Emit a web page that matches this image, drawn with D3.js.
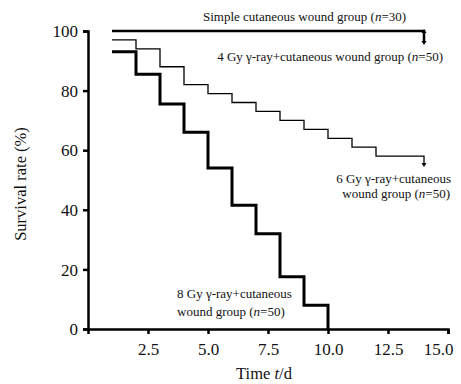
<!DOCTYPE html>
<html>
<head>
<meta charset="utf-8">
<script src="https://cdn.jsdelivr.net/npm/d3@7"></script>
<style>
  body { margin: 0; background: #fff; }
  svg { display: block; font-family: "Liberation Serif", "DejaVu Serif", serif; }
</style>
</head>
<body>
<svg width="461" height="384"></svg>
<script>
// data (survival %, by day)
const days = [1, 2, 3, 4, 5, 6, 7, 8, 9, 10, 11, 12, 13, 14];
const simpleGroup = [100, 100, 100, 100, 100, 100, 100, 100, 100, 100, 100, 100, 100, 100];
const gy4Group = [100, 100, 100, 100, 100, 100, 100, 100, 100, 100, 100, 100, 100, 96];
const gy6Group = [97, 94, 88, 82, 79, 76, 73, 70, 67, 64, 61, 58, 58, 55];
const gy8Days = [1, 2, 3, 4, 5, 6, 7, 8, 9, 10];
const gy8Group = [93, 85.5, 75.5, 66, 54, 41.5, 32, 17.5, 8, 0];
const xTicks = [2.5, 5, 7.5, 10, 12.5, 15];
const yTicks = [0, 20, 40, 60, 80, 100];

const serif = '"Liberation Serif", "Times New Roman", serif';
const svg = d3.select('svg');
const x = d3.scaleLinear().domain([0, 15]).range([88, 448]);
const y = d3.scaleLinear().domain([0, 100]).range([329, 31]);

// axes
const xAxis = svg.append('g')
    .attr('transform', 'translate(0,329)')
    .call(d3.axisBottom(x).tickValues(xTicks).tickFormat(d3.format('.1f')).tickSizeOuter(0).tickSize(5).tickPadding(5));
const yAxis = svg.append('g')
    .attr('transform', 'translate(88,0)')
    .call(d3.axisLeft(y).tickValues(yTicks).tickSizeOuter(0).tickSize(5).tickPadding(5));
[xAxis, yAxis].forEach(a => {
    a.attr('font-family', serif).attr('font-size', 17);
    a.select('.domain').attr('stroke', '#000').attr('stroke-width', 2.5);
    a.selectAll('.tick line').attr('stroke', '#000').attr('stroke-width', 2.5);
    a.selectAll('.tick text').attr('fill', '#111').style('font-family', serif);
});
xAxis.selectAll('.tick text')
    .attr('dy', '0.95em')
    .attr('dx', d => d === 15 ? -10 : 0);
yAxis.selectAll('.tick text').attr('dy', '0.34em');

// step curves
const stepLine = d3.line()
    .x(d => x(d[0]))
    .y(d => y(d[1]))
    .curve(d3.curveStepAfter);

function drawCurve(ds, vals, width) {
    svg.append('path')
        .datum(ds.map((d, i) => [d, vals[i]]))
        .attr('d', stepLine)
        .attr('fill', 'none')
        .attr('stroke', '#000')
        .attr('stroke-width', width);
}
drawCurve(days, gy6Group, 1.3);
drawCurve(gy8Days, gy8Group, 3);
drawCurve(days, gy4Group, 2.5);
drawCurve(days, simpleGroup, 2);

// end markers at day 14
function arrowHead(px, py, dir) {
    svg.append('path')
        .attr('d', `M${px - 2.5},${py - dir * 3}L${px + 2.5},${py - dir * 3}L${px},${py + dir}Z`)
        .attr('fill', '#000');
}
arrowHead(x(14), y(100) - 1, -1);
arrowHead(x(14), y(96) + 1, 1);
arrowHead(x(14), y(55) + 1, 1);

// labels
svg.append('text')
    .attr('transform', 'translate(26,184) rotate(-90)')
    .attr('text-anchor', 'middle')
    .style('font-size', '16.5px')
    .attr('fill', '#111')
    .text('Survival rate (%)');

const tLabel = svg.append('text')
    .attr('x', 264).attr('y', 379)
    .attr('text-anchor', 'middle')
    .style('font-size', '16.5px')
    .attr('fill', '#111');
tLabel.append('tspan').text('Time ');
tLabel.append('tspan').style('font-style', 'italic').text('t');
tLabel.append('tspan').text('/d');

function note(tx, ty, anchor, before, after) {
    const t = svg.append('text')
        .attr('x', tx).attr('y', ty)
        .attr('text-anchor', anchor)
        .style('font-size', '13px')
        .attr('fill', '#111');
    t.append('tspan').text(before);
    if (after !== undefined) {
        t.append('tspan').style('font-style', 'italic').text('n');
        t.append('tspan').text(after);
    }
}
note(203, 21, 'start', 'Simple cutaneous wound group (', '=30)');
note(443, 61, 'end', '4 Gy γ-ray+cutaneous wound group (', '=50)');
note(451, 183, 'end', '6 Gy γ-ray+cutaneous');
note(450, 198, 'end', 'wound group (', '=50)');
note(177, 298, 'start', '8 Gy γ-ray+cutaneous');
note(177, 316, 'start', 'wound group (', '=50)');
</script>
</body>
</html>
